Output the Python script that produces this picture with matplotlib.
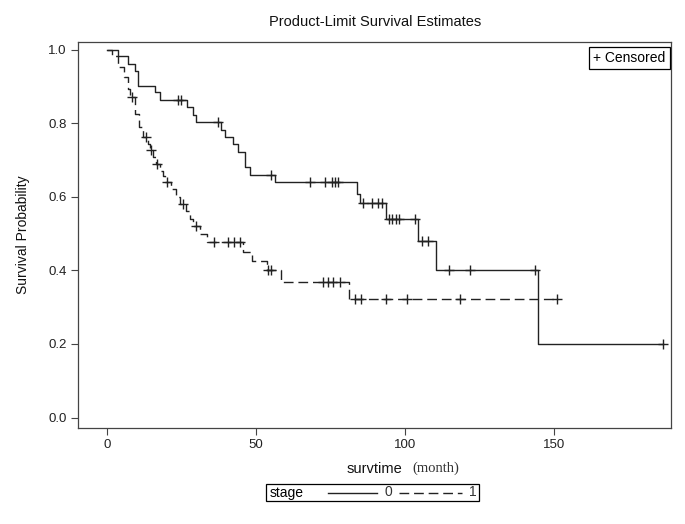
import numpy as np
import matplotlib
matplotlib.use("Agg")
import matplotlib.pyplot as plt
from matplotlib.lines import Line2D
from matplotlib.patches import Rectangle

# ---- data ----
stage0_times = [0, 3.7, 7.1, 9.4, 10.5, 16.1, 17.8, 27.0, 28.8, 30.0, 38.3, 39.6, 42.4, 44.1,
                46.3, 48.0, 56.4, 83.8, 84.9, 93.6, 104.5, 110.3, 144.7]
stage0_surv = [1.0, 0.981, 0.961, 0.942, 0.902, 0.884, 0.863, 0.843, 0.823, 0.802, 0.782, 0.762,
               0.744, 0.721, 0.680, 0.658, 0.639, 0.607, 0.582, 0.540, 0.481, 0.401, 0.200]
stage0_censor = [24.0, 24.8, 37.3, 55.0, 68.1, 73.2, 75.4, 76.5, 77.6, 86.0, 88.8, 91.0, 92.2,
                 94.7, 95.8, 96.9, 98.1, 103.4, 105.6, 107.8, 114.9, 122.0, 143.6, 186.7]

stage1_times = [0, 1.6, 3.8, 5.7, 7.2, 7.7, 9.4, 10.8, 12.0, 13.8, 14.4, 15.4, 16.4, 17.8, 18.8,
                19.6, 21.5, 23.2, 24.5, 26.5, 27.9, 28.9, 31.2, 33.6, 45.5, 48.8, 53.7, 58.4, 81.3]
stage1_surv = [1.0, 0.982, 0.952, 0.925, 0.894, 0.871, 0.825, 0.79, 0.762, 0.744, 0.726, 0.708,
               0.689, 0.67, 0.655, 0.639, 0.62, 0.60, 0.58, 0.56, 0.54, 0.52, 0.50, 0.477, 0.449,
               0.425, 0.40, 0.368, 0.323]
stage1_censor = [8.3, 13.1, 14.7, 16.9, 20.2, 25.4, 29.8, 36.0, 40.5, 42.7, 44.5, 54.0, 55.0,
                 72.6, 74.3, 76.0, 78.2, 83.2, 85.4, 93.8, 100.6, 118.5, 150.9]

stage_labels = ["0", "1"]
x_ticks = [0, 50, 100, 150]
y_ticks = [0.0, 0.2, 0.4, 0.6, 0.8, 1.0]

plt.rcParams['font.family'] = ['Liberation Sans', 'DejaVu Sans']

W, H = 685, 524
fig = plt.figure(figsize=(W / 100, H / 100), dpi=100)
ax_l, ax_r, ax_t, ax_b = 78, 671, 42, 428
ax = fig.add_axes([ax_l / W, 1 - ax_b / H, (ax_r - ax_l) / W, (ax_b - ax_t) / H])

frame_col = '#444444'
line_col = '#222222'


def km_curve(times, surv, censor):
    end = max(max(times), max(censor))
    xs = list(times) + [end]
    ys = list(surv) + [surv[-1]]
    t = np.asarray(times)
    s = np.asarray(surv)
    idx = np.searchsorted(t, np.asarray(censor), side='right') - 1
    return xs, ys, s[idx]


xs0, ys0, cy0 = km_curve(stage0_times, stage0_surv, stage0_censor)
xs1, ys1, cy1 = km_curve(stage1_times, stage1_surv, stage1_censor)

ax.step(xs0, ys0, where='post', color=line_col, lw=1.0)
ax.plot(stage0_censor, cy0, linestyle='none', marker='+', ms=7, mew=1.0, color=line_col)
ax.step(xs1, ys1, where='post', color=line_col, lw=1.0, linestyle=(0, (7, 3.5)))
ax.plot(stage1_censor, cy1, linestyle='none', marker='+', ms=7, mew=1.0, color=line_col)

ax.set_xlim(-9.73, 189.3)
ax.set_ylim(-0.0285, 1.0204)
ax.set_xticks(x_ticks)
ax.set_yticks(y_ticks)
ax.set_yticklabels([f"{v:.1f}" for v in y_ticks])
ax.tick_params(direction='out', length=5, width=0.8, color=frame_col, labelsize=9.5,
               labelcolor='#222222', pad=3)
for sp in ax.spines.values():
    sp.set_color(frame_col)
    sp.set_linewidth(0.9)

ax.set_ylabel("Survival Probability", fontsize=10, color='#111111')
ax.yaxis.set_label_coords(-(ax_l - 23) / (ax_r - ax_l), 0.5)
ax.yaxis.label.set_va('center')
ax.set_xlabel("survtime", fontsize=10.5, color='#111111')
ax.xaxis.set_label_coords(0.5, -(469 - ax_b) / (ax_b - ax_t))
ax.xaxis.label.set_va('center')
fig.text(412 / W, 1 - 468 / H, "(month)", family=['Liberation Serif', 'DejaVu Serif'],
         fontsize=10.5, va='center', ha='left', color='#333333')
fig.text(375 / W, 1 - 22 / H, "Product-Limit Survival Estimates", fontsize=10.5,
         ha='center', va='center', color='#111111')

ax.text(0.991, 0.976, "+ Censored", transform=ax.transAxes, ha='right', va='top', fontsize=10,
        bbox=dict(boxstyle='square,pad=0.3', fc='white', ec='black', lw=0.9))

# bottom legend
lx0, lx1, ly0, ly1 = 266, 479, 484, 501
fig.add_artist(Rectangle((lx0 / W, 1 - ly1 / H), (lx1 - lx0) / W, (ly1 - ly0) / H,
                         transform=fig.transFigure, fill=False, ec='black', lw=0.9))
ymid = 1 - ((ly0 + ly1) / 2) / H
fig.text(270 / W, ymid, "stage", fontsize=10, va='center', ha='left')
fig.add_artist(Line2D([328 / W, 377 / W], [ymid, ymid], transform=fig.transFigure,
                      color=line_col, lw=1.0))
fig.text(384 / W, ymid, stage_labels[0], fontsize=10, va='center', ha='left', color='#333333')
fig.add_artist(Line2D([399 / W, 462 / W], [ymid, ymid], transform=fig.transFigure,
                      color=line_col, lw=1.0, linestyle=(0, (7, 3.5))))
fig.text(469 / W, ymid, stage_labels[1], fontsize=10, va='center', ha='left', color='#333333')

fig.savefig("out.png", dpi=100)
